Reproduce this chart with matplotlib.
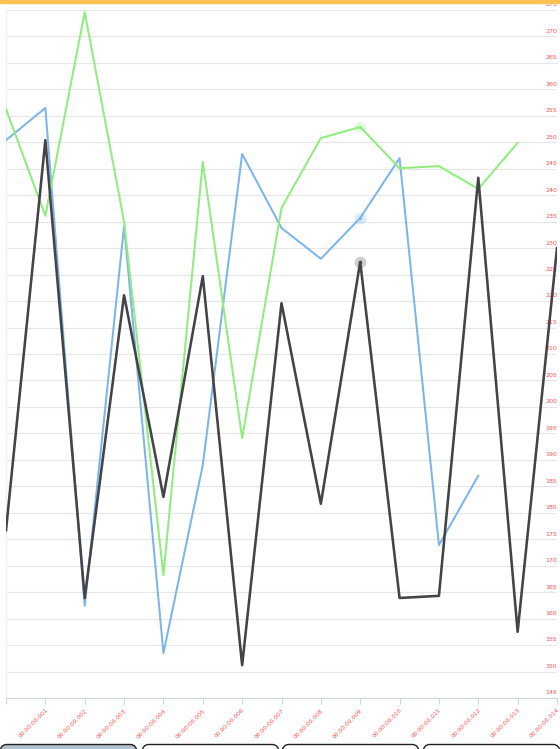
import numpy as np
import matplotlib.pyplot as plt
from matplotlib.patches import FancyBboxPatch, Rectangle
from matplotlib.transforms import blended_transform_factory

# values, one point per time step
times = ["00:00:00.%03d" % i for i in range(15)]
blue = [250.4, 256.5, 162.4, 234.2, 153.5, 189.0, 247.8, 233.8, 228.0, 235.7,
        247.0, 173.9, 187.0, np.nan, np.nan]
black = [176.7, 250.4, 163.9, 221.1, 183.0, 224.7, 151.2, 219.6, 181.7, 227.4,
         163.9, 164.3, 243.3, 157.5, 230.0]
green = [256.3, 236.1, 274.6, 235.0, 168.2, 246.3, 194.1, 237.6, 250.8, 252.9,
         245.1, 245.5, 241.2, 249.9, np.nan]
hover_idx = 9
yticks = list(range(145, 280, 5))

W, H = 560, 749
fig = plt.figure(figsize=(W / 100, H / 100), dpi=100)

# plot area in pixels: x 6..557, y 10..698
ax = fig.add_axes([6 / W, 1 - 698 / H, (557 - 6) / W, (698 - 10) / H])
x = np.arange(len(times))

ax.plot(x, blue, color="#7cb5ec", lw=1.45, zorder=3)
ax.plot(x, black, color="#434348", lw=1.85, zorder=4)
ax.plot(x, green, color="#90ed7d", lw=1.45, zorder=3)

# hover halos at the hovered point
for ser, col in [(blue, "#7cb5ec"), (black, "#434348"), (green, "#90ed7d")]:
    ax.plot(x[hover_idx], ser[hover_idx], "o", ms=8.5, color=col, alpha=0.25,
            mec="none", zorder=5)
    ax.plot(x[hover_idx], ser[hover_idx], "o", ms=2.4, color=col, mec="none", zorder=6)

ax.set_xlim(0, len(times) - 1)
ax.set_ylim(yticks[0], yticks[-1])
ax.set_yticks(yticks)
ax.grid(axis="y", color="#e6e6e6", lw=0.8)
ax.set_axisbelow(True)
ax.tick_params(axis="y", length=0, labelleft=False)

trans = blended_transform_factory(ax.transAxes, ax.transData)
for v in yticks:
    ax.text(1.0, v + 0.5, str(v), transform=trans, ha="right", va="bottom",
            fontsize=4.5, color="#ff5050")

ax.set_xticks(x)
ax.set_xticklabels([""] + times[1:], rotation=45, ha="right",
                   rotation_mode="anchor", fontsize=4.2, color="#ff5050")
ax.tick_params(axis="x", length=4, width=0.8, color="#ccd6eb", pad=3)

for s in ["top", "right"]:
    ax.spines[s].set_visible(False)
ax.spines["bottom"].set_color("#ccd6eb")
ax.spines["bottom"].set_linewidth(0.8)
ax.spines["left"].set_color("#f0f0f0")
ax.spines["left"].set_linewidth(1.0)

# orange bar along the top
fig.patches.append(Rectangle((0, 1 - 2.5 / H), 1, 2.5 / H, transform=fig.transFigure,
                             color="#fcc252", zorder=10))

# range buttons along the bottom
btn_x = [0, 142, 282, 423]
for i, bx in enumerate(btn_x):
    fc = "#b3c1cc" if i == 0 else "white"
    fig.patches.append(FancyBboxPatch((bx / W, -20 / H), 137 / W, 24.5 / H,
                                      boxstyle="round,pad=0,rounding_size=0.012",
                                      transform=fig.transFigure, fc=fc,
                                      ec="#222222", lw=1.0, zorder=10))

fig.savefig("out.png", dpi=100)
